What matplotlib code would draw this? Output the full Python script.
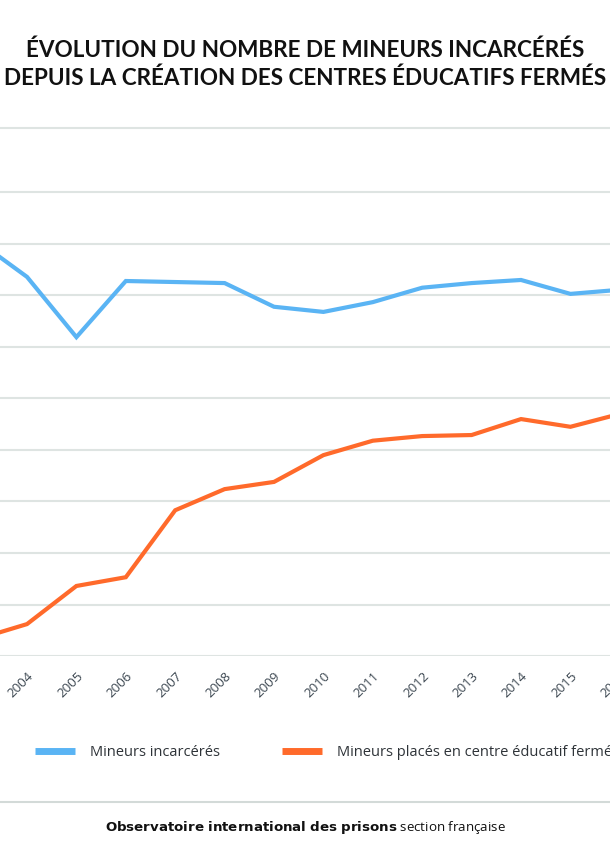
import matplotlib.pyplot as plt
import numpy as np

annees = [2003, 2004, 2005, 2006, 2007, 2008, 2009, 2010, 2011, 2012, 2013, 2014, 2015, 2016]
mineurs_incarceres = [806, 736, 619, 728, 726, 724, 678, 668, 687, 715, 724, 730, 703, 711]
mineurs_cef = [33, 62, 136, 153, 283, 324, 338, 390, 418, 427, 429, 460, 445, 470]

bleu = '#5AB4F4'
orange = '#FF6A2B'
gris = '#DEE4E2'
texte = '#3B4650'

fig = plt.figure(figsize=(6.1, 8.5), dpi=100)

# l'axe deborde volontairement de la figure (graphique recadre)
ax = fig.add_axes([-0.0772, 0.2282, 1.1338, 0.6212])
ax.plot(annees, mineurs_incarceres, color=bleu, lw=3, solid_joinstyle='miter', label='Mineurs incarcérés')
ax.plot(annees, mineurs_cef, color=orange, lw=3, solid_joinstyle='miter', label='Mineurs placés en centre éducatif fermé')

ax.set_xlim(2002.5, 2016.5)
ax.set_ylim(0, 1025)
ax.set_yticks(np.arange(0, 1000, 100))
ax.set_xticks(annees)
ax.set_xticklabels([str(a) for a in annees], rotation=45, ha='right', rotation_mode='anchor',
                   fontsize=9.5, color=texte, family='Open Sans')
ax.tick_params(axis='x', length=0, pad=10)
ax.tick_params(axis='y', length=0, labelleft=False)
ax.grid(axis='y', color=gris, lw=1.5)
ax.set_axisbelow(True)
for s in ['left', 'right', 'bottom']:
    ax.spines[s].set_visible(False)
ax.spines['top'].set_color(gris)
ax.spines['top'].set_linewidth(1.5)

fig.text(0.5, 1 - 50 / 850, 'ÉVOLUTION DU NOMBRE DE MINEURS INCARCÉRÉS', ha='center', va='center',
         fontsize=16.2, fontweight='bold', family='Lato', color='#111111')
fig.text(0.5, 1 - 78 / 850, 'DEPUIS LA CRÉATION DES CENTRES ÉDUCATIFS FERMÉS', ha='center', va='center',
         fontsize=16.2, fontweight='bold', family='Lato', color='#111111')

leg = fig.legend(loc='center left', bbox_to_anchor=(35 / 610, 1 - 753 / 850), ncol=2, frameon=False,
                 borderpad=0, borderaxespad=0, handlelength=2.75, handletextpad=1.05, columnspacing=4.2,
                 prop={'family': 'Open Sans', 'size': 10.5})
for h in leg.legend_handles:
    h.set_linewidth(5)
    h.set_solid_capstyle('butt')
for t in leg.get_texts():
    t.set_color('#2E3338')

fig.add_artist(plt.Line2D([0, 1], [1 - 802 / 850, 1 - 802 / 850], color='#D3DAD8', lw=1.5))
fig.text(0.5, 1 - 827 / 850, r'$\bf{Observatoire\ international\ des\ prisons}$ section française',
         ha='center', va='center', fontsize=9.6, family='Open Sans', color='#111111')

fig.savefig('out.png', dpi=100)
